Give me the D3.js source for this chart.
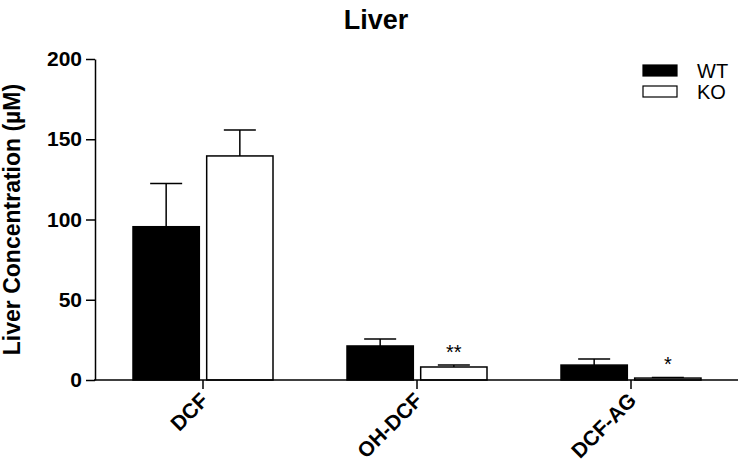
<!DOCTYPE html>
<html>
<head>
<meta charset="utf-8">
<script src="https://cdn.jsdelivr.net/npm/d3@7"></script>
<style>
  body { margin: 0; background: #fff; }
  svg { display: block; font-family: Arial, "Liberation Sans", sans-serif; }
</style>
</head>
<body>
<div id="chart-area"></div>
<script>
// data
const categories = ["DCF", "OH-DCF", "DCF-AG"];
const seriesNames = ["WT", "KO"];
const wtMean = [95.5, 21.2, 9.3];
const wtErr = [27, 4.3, 3.8];
const koMean = [139.6, 8.1, 1.2];
const koErr = [16.2, 1.2, 0.4];
const stars = ["", "**", "*"];
const yTicks = [0, 50, 100, 150, 200];

let width = 741, height = 468;
let margin = { left: 95, right: 3, top: 59, bottom: 88 };
let innerW = width - margin.left - margin.right,
    innerH = height - margin.top - margin.bottom;

let svg = d3.select("#chart-area")
  .append("svg")
    .attr("width", width)
    .attr("height", height);

let group = svg.append("g")
    .attr("transform", `translate(${margin.left}, ${margin.top})`);

let x = d3.scaleBand()
    .domain(categories)
    .range([1, innerW])
    .paddingInner(0)
    .paddingOuter(0);

let xs = d3.scaleBand()
    .domain(seriesNames)
    .range([x.bandwidth() / 2 - 70, x.bandwidth() / 2 + 70])
    .paddingInner(0.1)
    .paddingOuter(0);

let y = d3.scaleLinear()
    .domain([0, 200])
    .range([innerH, 0]);

let rows = categories.map((c, i) => ({
  cat: c,
  vals: [
    { s: "WT", v: wtMean[i], e: wtErr[i] },
    { s: "KO", v: koMean[i], e: koErr[i] }
  ]
}));

let cats = group.selectAll(".cat")
  .data(rows)
  .enter()
  .append("g")
    .attr("class", "cat")
    .attr("transform", d => `translate(${x(d.cat)}, 0)`);

let bars = cats.selectAll(".bar")
  .data(d => d.vals)
  .enter()
  .append("g");

// error bars, upward only
bars.append("line")
    .attr("x1", d => xs(d.s) + xs.bandwidth() / 2)
    .attr("x2", d => xs(d.s) + xs.bandwidth() / 2)
    .attr("y1", d => y(d.v))
    .attr("y2", d => y(d.v + d.e))
    .attr("stroke", "#000")
    .attr("stroke-width", 1.5);

bars.append("line")
    .attr("x1", d => xs(d.s) + xs.bandwidth() / 2 - 16)
    .attr("x2", d => xs(d.s) + xs.bandwidth() / 2 + 16)
    .attr("y1", d => y(d.v + d.e))
    .attr("y2", d => y(d.v + d.e))
    .attr("stroke", "#000")
    .attr("stroke-width", 1.5);

bars.append("rect")
    .attr("x", d => xs(d.s))
    .attr("y", d => y(d.v))
    .attr("width", xs.bandwidth())
    .attr("height", d => innerH - y(d.v))
    .attr("fill", d => d.s === "WT" ? "#000" : "#fff")
    .attr("stroke", "#000")
    .attr("stroke-width", 1.5);

// significance stars above KO bars
cats.append("text")
    .attr("x", xs("KO") + xs.bandwidth() / 2)
    .attr("y", (d, i) => y(koMean[i] + koErr[i]) - 6)
    .attr("text-anchor", "middle")
    .attr("font-size", "20px")
    .text((d, i) => stars[i]);

// axes
let yAxisCall = d3.axisLeft(y)
    .tickValues(yTicks)
    .tickSize(9)
    .tickPadding(4)
    .tickSizeOuter(0);
let yAxis = group.append("g")
    .attr("class", "y-axis")
    .call(yAxisCall);
yAxis.select(".domain").attr("stroke-width", 1.5);
yAxis.selectAll(".tick line").attr("stroke-width", 1.5);
yAxis.selectAll("text")
    .attr("font-size", "21px")
    .attr("font-weight", "bold")
    .attr("font-family", "Arial, 'Liberation Sans', sans-serif")
    .attr("fill", "#000");

let xAxisCall = d3.axisBottom(x)
    .tickSize(9)
    .tickSizeOuter(0);
let xAxis = group.append("g")
    .attr("class", "x-axis")
    .attr("transform", `translate(0, ${innerH})`)
    .call(xAxisCall);
xAxis.select(".domain").attr("stroke-width", 1.5).attr("d", `M-1,0H${innerW}`);
xAxis.selectAll(".tick line").attr("stroke-width", 1.5);
xAxis.selectAll("text")
    .attr("font-size", "21px")
    .attr("font-weight", "bold")
    .attr("font-family", "Arial, 'Liberation Sans', sans-serif")
    .attr("fill", "#000")
    .attr("text-anchor", "end")
    .attr("dy", "0.35em")
    .attr("transform", "translate(-7, 8) rotate(-45)");

// title
svg.append("text")
    .attr("x", 376)
    .attr("y", 29)
    .attr("text-anchor", "middle")
    .attr("font-size", "27px")
    .attr("font-weight", "bold")
    .text("Liver");

// y label
svg.append("text")
    .attr("transform", `translate(20, ${margin.top + innerH / 2}) rotate(-90)`)
    .attr("text-anchor", "middle")
    .attr("font-size", "23px")
    .attr("font-weight", "bold")
    .text("Liver Concentration (µM)");

// legend
let legend = svg.append("g")
    .attr("transform", "translate(643, 65)");
let items = legend.selectAll("g")
  .data(seriesNames)
  .enter()
  .append("g")
    .attr("transform", (d, i) => `translate(0, ${i * 21})`);
items.append("rect")
    .attr("width", 34)
    .attr("height", 11)
    .attr("fill", d => d === "WT" ? "#000" : "#fff")
    .attr("stroke", "#000")
    .attr("stroke-width", 1.2);
items.append("text")
    .attr("x", 54)
    .attr("y", 6)
    .attr("dy", "0.35em")
    .attr("font-size", "20px")
    .text(d => d);
</script>
</body>
</html>
